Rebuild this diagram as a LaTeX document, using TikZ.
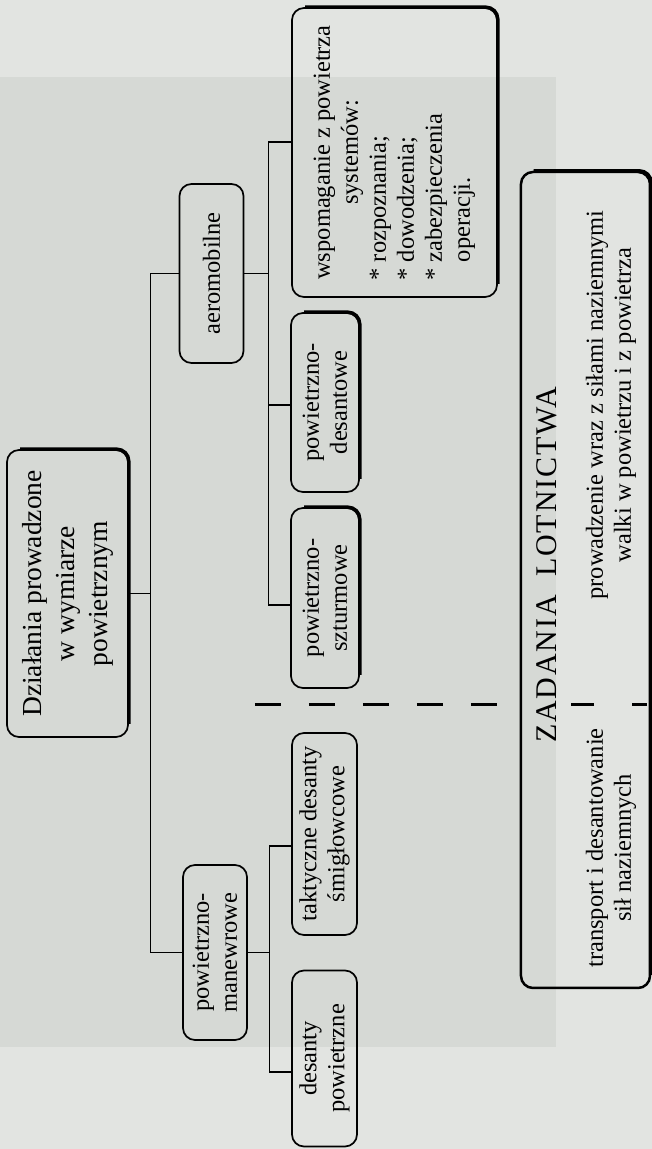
\documentclass[tikz,border=0pt]{standalone}
\usepackage{fontspec}
\setmainfont{Liberation Serif}
\usepackage{tikz}
\definecolor{paper}{RGB}{226,228,225}
\definecolor{panel}{RGB}{214,217,213}

\begin{document}
\begin{tikzpicture}[x=1pt, y=1pt,
  box/.style={draw, rounded corners=12pt, line width=1.7pt, align=center, inner sep=4pt,
    minimum height=64pt, font=\fontsize{24.5}{28}\selectfont},
  heavy/.style={box, append after command={\pgfextra{
    \draw[line width=3.4pt, rounded corners=12pt]
      ([yshift=-14pt]\tikzlastnode.north east) -- (\tikzlastnode.south east)
      -- ([xshift=14pt]\tikzlastnode.south west);}}},
  link/.style={line width=1.2pt},
  cut/.style={line width=3pt},
  txt/.style={align=center, font=\fontsize{24.5}{28}\selectfont},
]
\begin{scope}[rotate=90, transform shape]
\useasboundingbox (0,0) rectangle (1149,652);
\fill[paper] (0,0) rectangle (1149,652);
\fill[panel] (102,96) rectangle (1072,652);

\node[heavy, minimum width=287pt, minimum height=121pt, font=\fontsize{27.5}{33}\selectfont]
  (root) at (555.5,584.5) {Działania prowadzone\\w wymiarze\\powietrznym};
\node[box, minimum width=175pt] (manewr) at (196.5,437) {powietrzno-\\manewrowe};
\node[box, minimum width=179pt] (aero)   at (875.5,440.5) {aeromobilne};

\node[box, minimum width=176pt, minimum height=65pt] (desanty)   at (90.5,327.5) {desanty\\powietrzne};
\node[box, minimum width=202pt, minimum height=65pt] (taktyczne) at (315,327.5) {taktyczne desanty\\śmigłowcowe};
\node[heavy, minimum width=180pt, minimum height=68pt] (szturm) at (551,327) {powietrzno-\\szturmowe};
\node[heavy, minimum width=179pt, minimum height=68pt] (desant) at (746.5,327) {powietrzno-\\desantowe};
\node[heavy, minimum width=289pt, minimum height=205pt, align=left]
  (wsp) at (996.5,257.5) {\makebox[256pt]{wspomaganie z powietrza}\\
  \makebox[256pt]{systemów:}\\
  {}* rozpoznania;\\
  {}* dowodzenia;\\
  {}* zabezpieczenia\\
  \phantom{*}\ operacji.};

% tree
\coordinate (bus) at ([yshift=-22pt]root.south);
\coordinate (aerobus) at ([yshift=-24pt]aero.south);
\coordinate (manbus) at ([yshift=-22pt]manewr.south);
\draw[link] (root.south) -- (root.south |- bus);
\draw[link] (manewr.north) -- (manewr.north |- bus) -- (aero.north |- bus) -- (aero.north);
\draw[link] (aero.south) -- (aerobus);
\draw[link] ([xshift=10.5pt]wsp.north) |- (aerobus) -| ([xshift=-7pt]szturm.north);
\draw[link] ([xshift=-2.5pt]desant.north) -- ([xshift=-2.5pt]desant.north |- aerobus);
\draw[link] (manewr.south) -- (manbus);
\draw[link] ([xshift=-13.5pt]desanty.north) |- (manbus) -| ([xshift=-12pt]taktyczne.north);

% Zadania
\node[heavy, line width=2.5pt, minimum width=816pt, minimum height=129pt] (zadania) at (569,66.5) {};
\node[font={\fontsize{30}{36}\selectfont\addfontfeatures{LetterSpace=6}}, anchor=base]
  (title) at (584,95) {ZADANIA\ \ LOTNICTWA};
\node[txt] (ground) at (301,41) {transport i desantowanie\\sił naziemnych};
\node[txt] (air) at (744,41) {prowadzenie wraz z siłami naziemnymi\\walki w powietrzu i z powietrza};

\coordinate (dashtop) at (444,397);
\draw[cut, dash pattern=on 26pt off 28pt] (dashtop) -- (dashtop |- zadania.north);
\draw[cut] ([yshift=57pt]dashtop |- zadania.south) -- ++(0,23);
\draw[cut] ([yshift=4pt]dashtop |- zadania.south) -- ++(0,15);
\end{scope}
\end{tikzpicture}
\end{document}
